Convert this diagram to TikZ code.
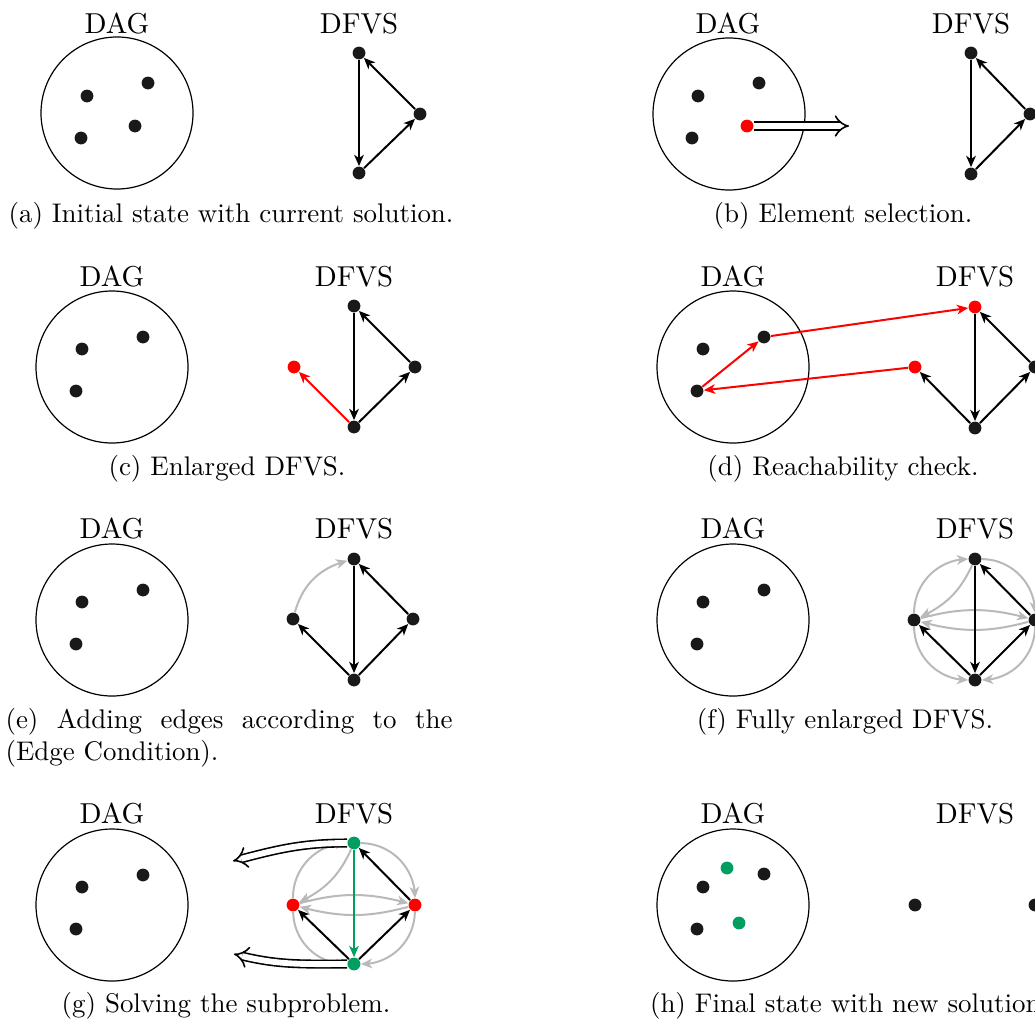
\documentclass[tikz,border=0pt]{standalone}
\usetikzlibrary{arrows.meta,bending}
\definecolor{mygreen}{RGB}{0,158,96}
\definecolor{mygray}{RGB}{185,185,185}
\begin{document}
\begin{tikzpicture}[x=0.375pt,y=-0.375pt,
 dot/.style={circle,fill=black!90,inner sep=0pt,minimum size=4.8pt},
 rdot/.style={dot,fill=red},
 gdot/.style={dot,fill=mygreen},
 dagc/.style={circle,draw,line width=0.45pt,inner sep=0pt,minimum size=57pt},
 lbl/.style={anchor=base,inner sep=0pt,font=\fontsize{10.8}{13}\selectfont},
 captxt/.style={anchor=base,inner sep=0pt,font=\fontsize{10.1}{12}\selectfont},
 edg/.style={line width=0.75pt,-{Stealth[length=4.2pt,width=3.6pt,inset=1.2pt]}},
 redg/.style={edg,red},
 gedg/.style={edg,mygray},
 grn/.style={edg,mygreen,line width=1pt},
 dbl/.style={double,double distance=2.2pt,line width=0.6pt,-{Implies}}
]
\useasboundingbox (0,0) rectangle (1035,1028);
\clip (0,0) rectangle (1035,1028);

% ---------- (a)
\node[lbl] (a-dag) at (117,33) {DAG};
\node[dagc] (a-c) at (117,113) {};
\node[dot] (a-1) at (87,96) {};
\node[dot] (a-2) at (148,83) {};
\node[dot] (a-3) at (81,138) {};
\node[dot] (a-4) at (135,126) {};
\node[lbl] (a-dfvs) at (359,33) {DFVS};
\node[dot] (a-t) at (359,53) {};
\node[dot] (a-r) at (420,114) {};
\node[dot] (a-b) at (359,173) {};
\draw[edg] (a-t) -- (a-b);
\draw[edg] (a-b) -- (a-r);
\draw[edg] (a-r) -- (a-t);
\node[captxt] (a-cap) at (231,222) {(a) Initial state with current solution.};

% ---------- (b)
\node[lbl] (b-dag) at (728,33) {DAG};
\node[dagc] (b-c) at (729,114) {};
\node[dot] (b-1) at (698,96) {};
\node[dot] (b-2) at (759,83) {};
\node[dot] (b-3) at (692,138) {};
\node[rdot] (b-4) at (747,126) {};
\coordinate (b-tip) at (849,126);
\draw[dbl] (b-4) -- (b-tip);
\node[lbl] (b-dfvs) at (971,33) {DFVS};
\node[dot] (b-t) at (971,53) {};
\node[dot] (b-r) at (1030,114) {};
\node[dot] (b-b) at (971,174) {};
\draw[edg] (b-t) -- (b-b);
\draw[edg] (b-b) -- (b-r);
\draw[edg] (b-r) -- (b-t);
\node[captxt] (b-cap) at (843,222) {(b) Element selection.};

% ---------- (c)
\node[lbl] (c-dag) at (112,286) {DAG};
\node[dagc] (c-c) at (112,367) {};
\node[dot] (c-1) at (82,349) {};
\node[dot] (c-2) at (143,337) {};
\node[dot] (c-3) at (76,391) {};
\node[lbl] (c-dfvs) at (354,286) {DFVS};
\node[dot] (c-t) at (354,306) {};
\node[dot] (c-r) at (415,367) {};
\node[dot] (c-b) at (354,427) {};
\node[rdot] (c-l) at (294,367) {};
\draw[edg] (c-t) -- (c-b);
\draw[edg] (c-b) -- (c-r);
\draw[edg] (c-r) -- (c-t);
\draw[redg] (c-b) -- (c-l);
\node[captxt] (c-cap) at (227,475) {(c) Enlarged DFVS.};

% ---------- (d)
\node[lbl] (d-dag) at (733,286) {DAG};
\node[dagc] (d-c) at (733,367) {};
\node[dot] (d-1) at (703,349) {};
\node[dot] (d-2) at (764,337) {};
\node[dot] (d-3) at (697,391) {};
\node[lbl] (d-dfvs) at (975,286) {DFVS};
\node[rdot] (d-t) at (975,307) {};
\node[rdot] (d-l) at (915,367) {};
\node[dot] (d-b) at (975,428) {};
\node[dot] (d-r) at (1035,367) {};
\draw[edg] (d-t) -- (d-b);
\draw[edg] (d-b) -- (d-l);
\draw[edg] (d-b) -- (d-r);
\draw[edg] (d-r) -- (d-t);
\draw[redg] (d-3) -- (d-2);
\draw[redg] (d-2) -- (d-t);
\draw[redg] (d-l) -- (d-3);
\node[captxt] (d-cap) at (843,475) {(d) Reachability check.};

% ---------- (e)
\node[lbl] (e-dag) at (112,538) {DAG};
\node[dagc] (e-c) at (112,620) {};
\node[dot] (e-1) at (82,602) {};
\node[dot] (e-2) at (143,590) {};
\node[dot] (e-3) at (76,644) {};
\node[lbl] (e-dfvs) at (354,538) {DFVS};
\node[dot] (e-t) at (354,559) {};
\node[dot] (e-l) at (293,619) {};
\node[dot] (e-r) at (413,619) {};
\node[dot] (e-b) at (354,680) {};
\draw[edg] (e-t) -- (e-b);
\draw[edg] (e-b) -- (e-l);
\draw[edg] (e-b) -- (e-r);
\draw[edg] (e-r) -- (e-t);
\draw[gedg] (e-l) to[bend left=30] (e-t);
\node[captxt,anchor=base west] (e-cap1) at (5,728) {\makebox[167.6pt][s]{(e) Adding edges according to the}};
\node[captxt,anchor=base west] (e-cap2) at (5,760) {(Edge Condition).};

% ---------- (f)
\node[lbl] (f-dag) at (733,538) {DAG};
\node[dagc] (f-c) at (733,620) {};
\node[dot] (f-1) at (703,602) {};
\node[dot] (f-2) at (764,590) {};
\node[dot] (f-3) at (697,644) {};
\node[lbl] (f-dfvs) at (975,538) {DFVS};
\node[dot] (f-t) at (975,559) {};
\node[dot] (f-l) at (914,620) {};
\node[dot] (f-r) at (1035,620) {};
\node[dot] (f-b) at (975,680) {};
\draw[gedg] (f-l) to[bend left=45] (f-t);
\draw[gedg] (f-t) to[bend left=20] (f-l);
\draw[gedg] (f-l) to[bend left=15] (f-r);
\draw[gedg] (f-r) to[bend left=15] (f-l);
\draw[gedg] (f-t) to[bend left=45] (f-r);
\draw[gedg] (f-r) to[bend left=45] (f-b);
\draw[gedg] (f-l) to[bend right=45] (f-b);
\draw[edg] (f-t) -- (f-b);
\draw[edg] (f-b) -- (f-l);
\draw[edg] (f-b) -- (f-r);
\draw[edg] (f-r) -- (f-t);
\node[captxt] (f-cap) at (845,728) {(f) Fully enlarged DFVS.};

% ---------- (g)
\node[lbl] (g-dag) at (112,823) {DAG};
\node[dagc] (g-c) at (112,905) {};
\node[dot] (g-1) at (82,887) {};
\node[dot] (g-2) at (143,875) {};
\node[dot] (g-3) at (76,929) {};
\node[lbl] (g-dfvs) at (354,823) {DFVS};
\node[gdot] (g-t) at (354,843) {};
\node[rdot] (g-l) at (293,905) {};
\node[rdot] (g-r) at (415,905) {};
\node[gdot] (g-b) at (354,964) {};
\draw[gedg] (g-l) to[bend left=45] (g-t);
\draw[gedg] (g-t) to[bend left=20] (g-l);
\draw[gedg] (g-l) to[bend left=15] (g-r);
\draw[gedg] (g-r) to[bend left=15] (g-l);
\draw[gedg] (g-t) to[bend left=45] (g-r);
\draw[gedg] (g-r) to[bend left=45] (g-b);
\draw[gedg] (g-l) to[bend right=45] (g-b);
\draw[grn] (g-t) -- (g-b);
\draw[edg] (g-b) -- (g-l);
\draw[edg] (g-b) -- (g-r);
\draw[edg] (g-r) -- (g-t);
\coordinate (g-tip1) at (233,861);
\coordinate (g-tip2) at (234,954);
\draw[dbl] (g-t) to[out=180,in=15] (g-tip1);
\draw[dbl] (g-b) to[out=180,in=-15] (g-tip2);
\node[captxt] (g-cap) at (226,1012) {(g) Solving the subproblem.};

% ---------- (h)
\node[lbl] (h-dag) at (733,823) {DAG};
\node[dagc] (h-c) at (733,905) {};
\node[gdot] (h-g1) at (727,868) {};
\node[dot] (h-1) at (764,874) {};
\node[dot] (h-2) at (703,887) {};
\node[dot] (h-3) at (697,929) {};
\node[gdot] (h-g2) at (739,923) {};
\node[lbl] (h-dfvs) at (975,823) {DFVS};
\node[dot] (h-l) at (915,905) {};
\node[dot] (h-r) at (1035,905) {};
\node[captxt] (h-cap) at (849,1012) {(h) Final state with new solution.};
\end{tikzpicture}
\end{document}
